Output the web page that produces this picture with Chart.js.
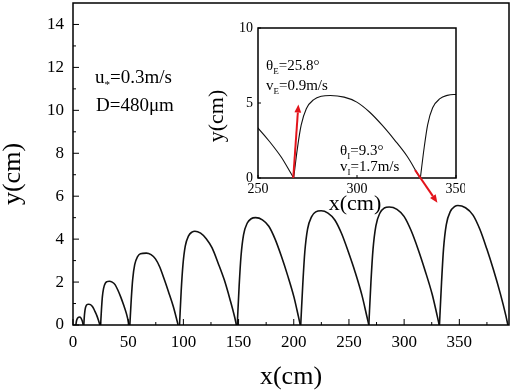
<!DOCTYPE html>
<html>
<head>
<meta charset="utf-8">
<script src="https://cdn.jsdelivr.net/npm/chart.js@4.4.1/dist/chart.umd.min.js"></script>
<style>
  html, body { margin:0; padding:0; background:#fff; }
  #wrap { position:relative; width:512px; height:391px; }
  #main { position:absolute; left:0; top:0; width:512px; height:391px; }
  #inset { position:absolute; left:200px; top:15px; width:265px; height:200px; }
</style>
</head>
<body>
<div id="wrap">
  <canvas id="main" width="512" height="391"></canvas>
  <canvas id="inset" width="265" height="200"></canvas>
</div>
<script>
// particle hops, [x(cm), y(cm)]
const hop1 = [[2.6,0],[3.2,0.2],[4.2,0.32],[5.3,0.36],[6.3,0.37],[7.4,0.31],[8.5,0.17],[9.3,0]];
const hop2 = [[9.8,0],[10.2,0.35],[10.7,0.62],[11.3,0.81],[12.2,0.92],[13.1,0.96],[14.4,0.97],[15.8,0.95],[17.2,0.89],[18.6,0.78],[20.0,0.62],[21.5,0.45],[22.9,0.25],[23.9,0.08],[24.4,0]];
const hop3 = [[25.0,0],[25.8,0.73],[26.6,1.31],[27.7,1.71],[29.2,1.94],[30.8,2.02],[32.9,2.04],[35.5,2.0],[38.1,1.88],[40.6,1.63],[43.2,1.31],[45.8,0.94],[48.4,0.53],[50.2,0.16],[51.0,0]];
const hop4 = [[51.5,0],[52.8,1.21],[54.1,2.14],[55.9,2.81],[58.5,3.18],[61.1,3.32],[66.4,3.35],[70.7,3.28],[74.7,3.08],[78.6,2.7],[82.5,2.15],[86.5,1.55],[90.8,0.87],[93.9,0.27],[95.2,0]];
const hop5 = [[96.5,0],[98.0,1.57],[99.6,2.8],[101.7,3.67],[104.7,4.15],[107.8,4.33],[110.4,4.37],[115.6,4.28],[120.7,4.02],[125.9,3.6],[131.5,2.88],[137.2,2.08],[142.3,1.18],[146.5,0.36],[148.0,0]];
const hop6 = [[148.8,0],[150.5,1.8],[152.2,3.2],[154.5,4.2],[157.9,4.75],[161.4,4.95],[165.4,5.0],[171.6,4.9],[177.4,4.6],[183.1,4.0],[188.8,3.2],[194.5,2.3],[200.2,1.3],[204.2,0.4],[205.9,0]];
const hop7 = [[206.3,0],[208.2,1.92],[210.0,3.4],[212.5,4.47],[216.2,5.05],[219.9,5.27],[224.8,5.32],[231.0,5.21],[237.2,4.89],[243.3,4.26],[249.5,3.4],[255.7,2.45],[261.8,1.38],[266.1,0.43],[268.0,0]];
const hop8 = [[268.0,0],[269.9,1.98],[271.8,3.52],[274.4,4.62],[278.2,5.23],[282.0,5.45],[286.5,5.5],[293.5,5.39],[299.9,5.06],[306.3,4.4],[312.7,3.52],[319.0,2.53],[325.4,1.43],[329.9,0.44],[331.8,0]];
const hop9 = [[332.0,0],[333.9,2.0],[335.7,3.56],[338.2,4.68],[341.9,5.29],[345.6,5.51],[348.7,5.57],[355.6,5.46],[362.4,5.12],[368.6,4.46],[374.8,3.56],[381.0,2.56],[387.2,1.45],[392.1,0.45],[394.0,0]];
const hops = [hop1, hop2, hop3, hop4, hop5, hop6, hop7, hop8, hop9];

// velocity arrows in the inset (tail, head)
const ejectArrow = [[267.8,0],[270.4,4.9]];
const impactArrow = [[329.3,0.53],[340.6,-1.65]];

// axis ticks
const xTicks = [0,50,100,150,200,250,300,350];
const xMinor = [25,75,125,175,225,275,325,375];
const yTicks = [0,2,4,6,8,10,12,14];
const yMinor = [1,3,5,7,9,11,13];
const insetXTicks = [250,300,350];
const insetYTicks = [0,5,10];

const FONT = '"Liberation Serif", "Times New Roman", serif';
Chart.defaults.font.family = FONT;
Chart.defaults.color = '#000';

function hopSets(width) {
  return hops.map(h => ({
    data: h.map(p => ({x: p[0], y: p[1]})),
    borderColor: '#111',
    borderWidth: width,
    pointRadius: 0,
    fill: false,
    cubicInterpolationMode: 'monotone'
  }));
}

// text with subscripts: parts = [[text, isSub], ...]
function drawRich(ctx, x, y, parts, size) {
  parts.forEach(([t, sub]) => {
    ctx.font = (sub ? Math.round(size * 0.6) : size) + 'px ' + FONT;
    ctx.fillText(t, x, sub ? y + size * 0.25 : y);
    x += ctx.measureText(t).width;
  });
}

function fixTicks(list) {
  return scale => { scale.ticks = list.map(v => ({value: v})); };
}
function fixSize(prop, n) {
  return scale => {
    scale[prop] = n;
    scale.paddingTop = 0; scale.paddingBottom = 0;
    scale.paddingLeft = 0; scale.paddingRight = 0;
  };
}

// box + inward tick marks
const frame = {
  id: 'frame',
  afterDraw(chart, args, o) {
    const {ctx, chartArea: a, scales: {x, y}} = chart;
    ctx.save();
    ctx.strokeStyle = '#000';
    ctx.lineWidth = 1;
    ctx.beginPath();
    o.xMajor.forEach(v => { const p = x.getPixelForValue(v); ctx.moveTo(p, a.bottom); ctx.lineTo(p, a.bottom - o.major); });
    o.xMinor.forEach(v => { const p = x.getPixelForValue(v); ctx.moveTo(p, a.bottom); ctx.lineTo(p, a.bottom - o.minor); });
    o.yMajor.forEach(v => { const p = y.getPixelForValue(v); ctx.moveTo(a.left, p); ctx.lineTo(a.left + o.major, p); });
    o.yMinor.forEach(v => { const p = y.getPixelForValue(v); ctx.moveTo(a.left, p); ctx.lineTo(a.left + o.minor, p); });
    ctx.stroke();
    ctx.lineWidth = o.lineWidth;
    ctx.strokeRect(a.left, a.top, a.right - a.left, a.bottom - a.top);
    // axis titles
    ctx.fillStyle = '#000';
    ctx.textAlign = 'center';
    ctx.textBaseline = 'middle';
    ctx.font = o.titleSize + 'px ' + FONT;
    ctx.fillText('x(cm)', o.xTitle[0], o.xTitle[1]);
    ctx.translate(o.yTitle[0], o.yTitle[1]);
    ctx.rotate(-Math.PI / 2);
    ctx.fillText('y(cm)', 0, 0);
    ctx.restore();
  }
};

const notes = {
  id: 'notes',
  afterDraw(chart, args, o) {
    const ctx = chart.ctx;
    ctx.save();
    ctx.fillStyle = '#000';
    ctx.textBaseline = 'alphabetic';
    o.items.forEach(it => drawRich(ctx, it.x, it.y, it.parts, it.size));
    ctx.restore();
  }
};

function drawArrow(ctx, chart, pts, color) {
  const {x, y} = chart.scales;
  const x0 = x.getPixelForValue(pts[0][0]), y0 = y.getPixelForValue(pts[0][1]);
  const x1 = x.getPixelForValue(pts[1][0]), y1 = y.getPixelForValue(pts[1][1]);
  const ang = Math.atan2(y1 - y0, x1 - x0);
  const len = 8, hw = 3.4;
  ctx.strokeStyle = color;
  ctx.fillStyle = color;
  ctx.lineWidth = 2;
  ctx.beginPath();
  ctx.moveTo(x0, y0);
  ctx.lineTo(x1 - len * Math.cos(ang), y1 - len * Math.sin(ang));
  ctx.stroke();
  ctx.beginPath();
  ctx.moveTo(x1, y1);
  ctx.lineTo(x1 - len * Math.cos(ang) + hw * Math.sin(ang), y1 - len * Math.sin(ang) - hw * Math.cos(ang));
  ctx.lineTo(x1 - len * Math.cos(ang) - hw * Math.sin(ang), y1 - len * Math.sin(ang) + hw * Math.cos(ang));
  ctx.closePath();
  ctx.fill();
}

const arrows = {
  id: 'arrows',
  afterDraw(chart) {
    chart.ctx.save();
    drawArrow(chart.ctx, chart, ejectArrow, '#e3141b');
    drawArrow(chart.ctx, chart, impactArrow, '#e3141b');
    chart.ctx.restore();
  }
};

const noGrid = { display: false, drawTicks: false };

// main chart
new Chart(document.getElementById('main'), {
  type: 'line',
  data: { datasets: hopSets(1.6) },
  plugins: [frame, notes],
  options: {
    responsive: false,
    animation: false,
    layout: { padding: { top: 3, right: 3, left: 0, bottom: 0 } },
    plugins: {
      legend: { display: false },
      tooltip: { enabled: false },
      frame: { xMajor: xTicks, xMinor: xMinor, yMajor: yTicks, yMinor: yMinor, major: 6, minor: 3, lineWidth: 1.5,
               titleSize: 26, xTitle: [291, 377], yTitle: [13, 174] },
      notes: { items: [
        { x: 95, y: 83, size: 19, parts: [['u', false], ['*', true], ['=0.3m/s', false]] },
        { x: 96, y: 111, size: 19, parts: [['D=480\u03bcm', false]] }
      ] }
    },
    scales: {
      x: {
        type: 'linear', min: 0, max: 395,
        grid: noGrid, border: { display: false },
        ticks: { font: { size: 17 }, padding: 7, autoSkip: false, maxRotation: 0 },
        afterBuildTicks: fixTicks(xTicks),
        afterFit: fixSize('height', 66)
      },
      y: {
        type: 'linear', min: 0, max: 15,
        grid: noGrid, border: { display: false },
        ticks: { font: { size: 17 }, padding: 9, autoSkip: false },
        afterBuildTicks: fixTicks(yTicks),
        afterFit: fixSize('width', 73)
      }
    }
  }
});

// inset chart
new Chart(document.getElementById('inset'), {
  type: 'line',
  data: { datasets: hopSets(1.1) },
  plugins: [frame, notes, arrows],
  options: {
    responsive: false,
    animation: false,
    layout: { padding: { top: 13, right: 9, left: 0, bottom: 0 } },
    plugins: {
      legend: { display: false },
      tooltip: { enabled: false },
      frame: { xMajor: insetXTicks, xMinor: [], yMajor: insetYTicks, yMinor: [], major: 3, minor: 0, lineWidth: 1.5,
               titleSize: 22, xTitle: [155, 189], yTitle: [17, 101] },
      notes: { items: [
        { x: 66, y: 55, size: 15, parts: [['\u03b8', false], ['E', true], ['=25.8\u00b0', false]] },
        { x: 66, y: 75, size: 15, parts: [['v', false], ['E', true], ['=0.9m/s', false]] },
        { x: 140, y: 140, size: 15, parts: [['\u03b8', false], ['I', true], ['=9.3\u00b0', false]] },
        { x: 140, y: 156, size: 15, parts: [['v', false], ['I', true], ['=1.7m/s', false]] }
      ] }
    },
    scales: {
      x: {
        type: 'linear', min: 250, max: 350,
        grid: noGrid, border: { display: false },
        ticks: { font: { size: 14 }, padding: 3, autoSkip: false, maxRotation: 0 },
        afterBuildTicks: fixTicks(insetXTicks),
        afterFit: fixSize('height', 37)
      },
      y: {
        type: 'linear', min: 0, max: 10,
        grid: noGrid, border: { display: false },
        ticks: { font: { size: 14 }, padding: 5, autoSkip: false },
        afterBuildTicks: fixTicks(insetYTicks),
        afterFit: fixSize('width', 58)
      }
    }
  }
});
</script>
</body>
</html>
